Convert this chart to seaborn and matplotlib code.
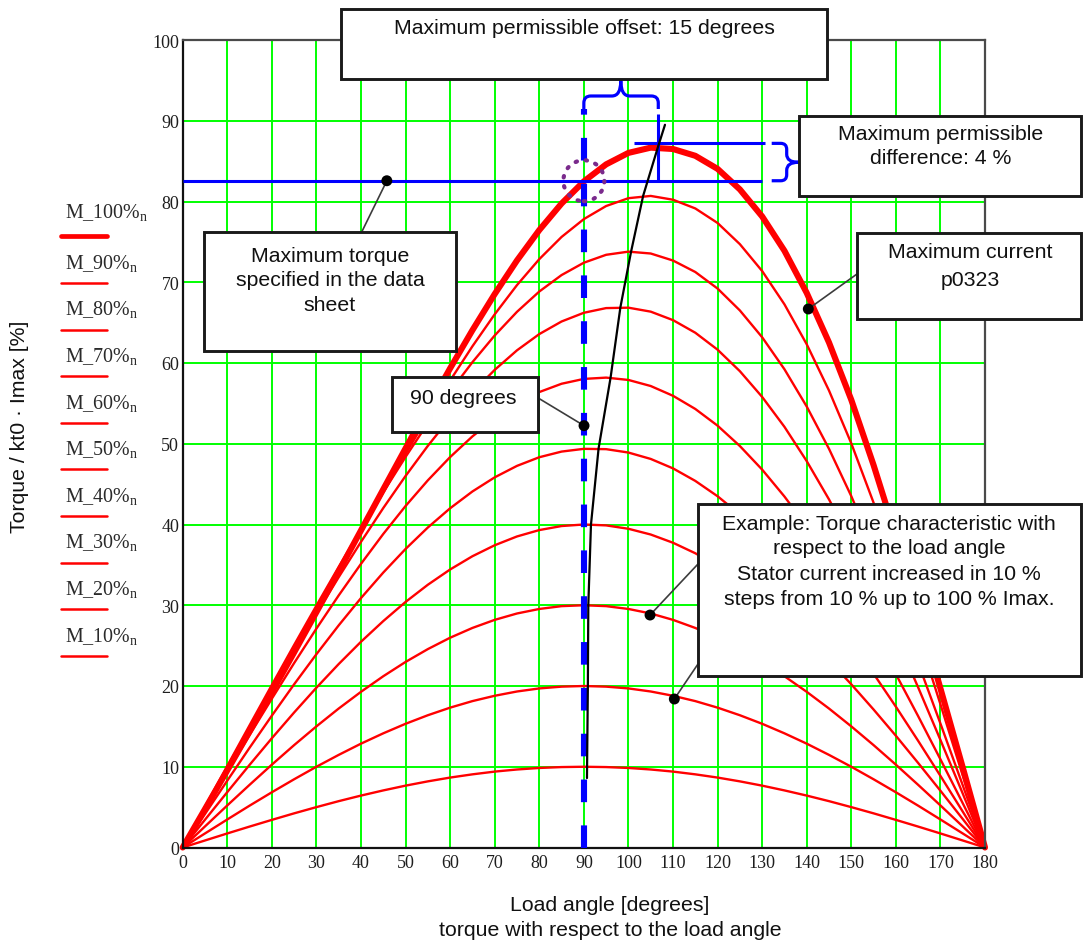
import matplotlib
matplotlib.use("Agg")
import matplotlib.pyplot as plt
import seaborn as sns
import pandas as pd
from matplotlib.path import Path
from matplotlib.patches import PathPatch, Rectangle, Ellipse
from matplotlib.lines import Line2D

# ---------------- data ----------------
angles = [0, 5, 10, 15, 20, 25, 30, 35, 40, 45, 50, 55, 60, 65, 70, 75, 80, 85, 90,
          95, 100, 105, 110, 115, 120, 125, 130, 135, 140, 145, 150, 155, 160, 165, 170, 175, 180]

m100 = [0, 4.76, 9.55, 14.37, 19.23, 24.16, 29.15, 34.19, 39.27, 44.36, 49.43, 54.44, 59.34, 64.06, 68.54, 72.70, 76.46, 79.75, 82.49,
        84.60, 86.02, 86.67, 86.50, 85.66, 84.04, 81.50, 78.15, 73.90, 68.68, 62.54, 55.44, 47.36, 38.59, 29.34, 19.70, 9.92, 0]
m90 = [0, 4.87, 9.74, 14.62, 19.52, 24.43, 29.35, 34.26, 39.15, 43.99, 48.74, 53.37, 57.83, 62.07, 66.03, 69.65, 72.86, 75.61, 77.82,
       79.44, 80.41, 80.69, 80.22, 79.14, 77.34, 74.72, 71.39, 67.27, 62.32, 56.59, 50.05, 42.70, 34.76, 26.41, 17.74, 8.93, 0]
m80 = [0, 5.06, 10.11, 15.13, 20.13, 25.08, 29.96, 34.75, 39.44, 43.99, 48.37, 52.54, 56.47, 60.10, 63.41, 66.34, 68.85, 70.89, 72.42,
       73.40, 73.79, 73.56, 72.69, 71.27, 69.22, 66.51, 63.19, 59.23, 54.61, 49.37, 43.51, 37.04, 30.11, 22.85, 15.35, 7.72, 0]
m70 = [0, 4.94, 9.86, 14.74, 19.57, 24.32, 28.96, 33.48, 37.85, 42.04, 46.01, 49.74, 53.20, 56.35, 59.15, 61.57, 63.58, 65.14, 66.22,
       66.80, 66.85, 66.36, 65.31, 63.75, 61.65, 58.99, 55.80, 52.10, 47.85, 43.11, 37.89, 32.20, 26.15, 19.83, 13.32, 6.69, 0]
m60 = [0, 4.68, 9.33, 13.92, 18.43, 22.84, 27.11, 31.22, 35.13, 38.83, 42.29, 45.47, 48.35, 50.91, 53.12, 54.95, 56.40, 57.43, 58.03,
       58.19, 57.90, 57.15, 55.94, 54.31, 52.24, 49.72, 46.80, 43.47, 39.76, 35.67, 31.24, 26.48, 21.47, 16.27, 10.92, 5.49, 0]
m50 = [0, 4.15, 8.28, 12.35, 16.33, 20.21, 23.94, 27.51, 30.89, 34.05, 36.97, 39.63, 42.01, 44.09, 45.84, 47.26, 48.33, 49.03, 49.37,
       49.33, 48.91, 48.12, 46.95, 45.40, 43.50, 41.25, 38.67, 35.77, 32.58, 29.13, 25.43, 21.52, 17.44, 13.21, 8.87, 4.45, 0]
m40 = [0, 3.44, 6.86, 10.23, 13.53, 16.72, 19.79, 22.72, 25.48, 28.04, 30.41, 32.54, 34.43, 36.07, 37.43, 38.52, 39.31, 39.81, 40.00,
       39.89, 39.47, 38.76, 37.74, 36.44, 34.85, 32.99, 30.88, 28.52, 25.95, 23.17, 20.21, 17.09, 13.84, 10.47, 7.03, 3.53, 0]
m30 = [0, 2.61, 5.21, 7.76, 10.26, 12.68, 15.00, 17.21, 19.28, 21.21, 22.98, 24.57, 25.98, 27.19, 28.19, 28.98, 29.54, 29.89, 30.00,
       29.89, 29.54, 28.98, 28.19, 27.19, 25.98, 24.57, 22.98, 21.21, 19.28, 17.21, 15.00, 12.68, 10.26, 7.76, 5.21, 2.61, 0]
m20 = [0, 1.74, 3.47, 5.18, 6.84, 8.45, 10.00, 11.47, 12.86, 14.14, 15.32, 16.38, 17.32, 18.13, 18.79, 19.32, 19.70, 19.92, 20.00,
       19.92, 19.70, 19.32, 18.79, 18.13, 17.32, 16.38, 15.32, 14.14, 12.86, 11.47, 10.00, 8.45, 6.84, 5.18, 3.47, 1.74, 0]
m10 = [0, 0.87, 1.74, 2.59, 3.42, 4.23, 5.00, 5.74, 6.43, 7.07, 7.66, 8.19, 8.66, 9.06, 9.40, 9.66, 9.85, 9.96, 10.00,
       9.96, 9.85, 9.66, 9.40, 9.06, 8.66, 8.19, 7.66, 7.07, 6.43, 5.74, 5.00, 4.23, 3.42, 2.59, 1.74, 0.87, 0]

curve_names = ["100", "90", "80", "70", "60", "50", "40", "30", "20", "10"]
curve_values = [m100, m90, m80, m70, m60, m50, m40, m30, m20, m10]

# locus of the torque maxima (black line)
locus_x = [90.7, 90.9, 91.0, 91.6, 93.3, 96.0, 98.2, 100.6, 103.3, 106.6, 108.2]
locus_y = [8.6, 20.0, 30.0, 40.0, 49.4, 58.2, 66.9, 73.8, 80.7, 86.7, 89.5]

max_torque_level = 82.57     # datasheet maximum torque
peak_level = 87.2            # maximum of the 100 % curve
offset_angle = 90.0          # 90 degrees line
peak_angle = 106.7           # load angle of the maximum
dash_top = 91.45
vline_top = 90.8
hline1_end = 130.0
hline2_start, hline2_end = 101.3, 130.6

dot_x = [45.8, 90.04, 140.36, 104.85, 110.3]
dot_y = [82.57, 52.24, 66.69, 28.79, 18.39]

x_ticks = [0, 10, 20, 30, 40, 50, 60, 70, 80, 90, 100, 110, 120, 130, 140, 150, 160, 170, 180]
y_ticks = [0, 10, 20, 30, 40, 50, 60, 70, 80, 90, 100]

# ---------------- figure ----------------
sns.set_style("white")
plt.rcParams['font.family'] = ['Liberation Sans', 'DejaVu Sans']
plt.rcParams['mathtext.fontset'] = 'custom'
plt.rcParams['mathtext.rm'] = 'Liberation Serif'

W, H = 1083, 945
fig = plt.figure(figsize=(W / 100, H / 100), dpi=100)
fig.patch.set_facecolor('white')
ax = fig.add_axes([182.7 / W, 1 - 848.5 / H, (985 - 182.7) / W, (848.5 - 41) / H])
ax.set_facecolor('white')


def fx(px):
    return px / W


def fy(py):
    return 1 - py / H


# red torque curves
for name, vals in zip(curve_names, curve_values):
    df = pd.DataFrame({'angle': angles, 'torque': vals})
    sns.lineplot(data=df, x='angle', y='torque', ax=ax, color='#ff0000',
                 linewidth=4.4 if name == '100' else 1.7, estimator=None, sort=False,
                 legend=False, zorder=3, solid_joinstyle='round', clip_on=False)

# black locus line
sns.lineplot(x=locus_x, y=locus_y, ax=ax, color='black', linewidth=1.6, estimator=None,
             sort=False, legend=False, zorder=6)

ax.set_xlim(0, 180)
ax.set_ylim(0, 100)
ax.set_xticks(x_ticks)
ax.set_yticks(y_ticks)
ax.set_xticklabels([str(t) for t in x_ticks])
ax.set_yticklabels([str(t) for t in y_ticks])
ax.grid(True, color='#00ff00', linewidth=1.4)
ax.set_axisbelow(True)
ax.tick_params(length=0, labelsize=13, labelcolor='#1e1e1e')
ax.tick_params(axis='x', pad=4.5)
ax.tick_params(axis='y', pad=2.5)
for lbl in ax.get_xticklabels() + ax.get_yticklabels():
    lbl.set_fontfamily('Liberation Serif')
for side, s in ax.spines.items():
    s.set_linewidth(1.6)
    s.set_color('#111111' if side in ('left', 'bottom') else '#4a4a4a')
    s.set_zorder(4)
ax.set_xlabel('')
ax.set_ylabel('')

# blue guide lines
ax.hlines(max_torque_level, 0, hline1_end, color='#0000ff', linewidth=2.2, zorder=5)
ax.hlines(peak_level, hline2_start, hline2_end, color='#0000ff', linewidth=2.2, zorder=5)
ax.vlines(peak_angle, max_torque_level, vline_top, color='#0000ff', linewidth=2.2, zorder=5)
ax.plot([offset_angle, offset_angle], [0, dash_top], color='#0000ff', linewidth=4.4,
        linestyle=(0, (3.7, 3.8)), dash_capstyle='butt', zorder=5)

# purple dotted circle
circ = Ellipse((offset_angle, max_torque_level), 9.2, 5.08, fill=False, edgecolor='#7a2a8c',
               linewidth=3.0, linestyle=(0, (0.35, 2.1)), zorder=6)
circ.set_capstyle('round')
ax.add_patch(circ)

fig.canvas.draw()


def d2p(x, y):
    d = ax.transData.transform((x, y))
    return d[0], H - d[1]


def add_brace(verts_px, codes):
    verts = [(fx(x), fy(y)) for x, y in verts_px]
    p = PathPatch(Path(verts, codes), facecolor='none', edgecolor='#0000ff', linewidth=2.3,
                  transform=fig.transFigure, zorder=6, clip_on=False, capstyle='butt', joinstyle='round')
    ax.add_patch(p)


# top brace (offset)
xL, _ = d2p(offset_angle, 0)
xR, _ = d2p(peak_angle, 0)
xt = 620.8
yb, yh, ytip = 110, 97, 82
M, L, C = Path.MOVETO, Path.LINETO, Path.CURVE3
add_brace([(xL, yb), (xL, yh + 7), (xL, yh), (xL + 7, yh), (xt - 9, yh), (xt, yh), (xt, ytip),
           (xt, yh), (xt + 9, yh), (xR - 7, yh), (xR, yh), (xR, yh + 7), (xR, yb)],
          [M, L, C, C, L, C, C, C, C, L, C, C, L])

# right brace (difference)
_, yt = d2p(0, peak_level)
_, ybo = d2p(0, max_torque_level)
xs, xv, xtip, ym = 771.7, 786.7, 798.3, 163.3
add_brace([(xs, yt), (xv - 6, yt), (xv, yt), (xv, yt + 6), (xv, ym - 8), (xv, ym), (xtip, ym),
           (xv, ym), (xv, ym + 8), (xv, ybo - 6), (xv, ybo), (xv - 6, ybo), (xs, ybo)],
          [M, L, C, C, L, C, C, C, C, L, C, C, L])

# leader lines (box edge -> dot)
leader_starts = [(361.7, 233.0), (539.0, 399.5), (857.0, 275.0), (698.0, 565.0), (698.0, 665.0)]
for (sx, sy), dx, dy in zip(leader_starts, dot_x, dot_y):
    ex, ey = d2p(dx, dy)
    ln = Line2D([fx(sx), fx(ex)], [fy(sy), fy(ey)], color='#3c3c3c', linewidth=1.2,
                transform=fig.transFigure, zorder=7, clip_on=False)
    ax.add_line(ln)

ax.scatter(dot_x, dot_y, s=62, color='black', edgecolors='none', zorder=8, clip_on=False)

# text boxes
FS = 15.3


def box(x0, y0, x1, y1):
    r = Rectangle((fx(x0), fy(y1)), (x1 - x0) / W, (y1 - y0) / H, transform=fig.transFigure,
                  facecolor='white', edgecolor='#1a1a1a', linewidth=2.1, zorder=10)
    fig.add_artist(r)


def txt(cx, cy, s, **kw):
    fig.text(fx(cx), fy(cy), s, ha='center', va='center', fontsize=FS, color='#111111',
             zorder=11, **kw)


box(341, 10, 827, 80)
txt(584, 29, 'Maximum permissible offset: 15 degrees')

box(799, 117, 1081, 197)
txt(941, 135, 'Maximum permissible')
txt(941, 159, 'difference: 4 %')

box(204, 233, 456, 352)
txt(330, 256, 'Maximum torque')
txt(330, 281, 'specified in the data')
txt(330, 306, 'sheet')

box(392, 378, 538, 433)
txt(463, 398, '90 degrees')

box(857, 234, 1081, 320)
txt(970, 253, 'Maximum current')
txt(970, 280, 'p0323')

box(698, 505, 1081, 677)
txt(889, 524, 'Example: Torque characteristic with')
txt(889, 549, 'respect to the load angle')
txt(889, 575, 'Stator current increased in 10 %')
txt(889, 600, 'steps from 10 % up to 100 % Imax.')

# axis titles
fig.text(fx(20), fy(427), 'Torque / kt0 · Imax [%]', rotation=90, ha='center', va='center',
         fontsize=FS, color='#111111')
fig.text(fx(610), fy(906), 'Load angle [degrees]', ha='center', va='center', fontsize=FS,
         color='#111111')
fig.text(fx(610), fy(931), 'torque with respect to the load angle', ha='center', va='center',
         fontsize=FS, color='#111111')

# legend on the left
for i, name in enumerate(curve_names):
    line_y = 237.3 + i * 46.6
    base_y = 218.3 if i == 0 else line_y - 14.3
    fig.text(fx(65), fy(base_y), 'M_' + name + '%$_{\\mathregular{n}}$', ha='left', va='baseline',
             fontsize=14.4, family='Liberation Serif', color='#2a2a2a')
    fig.add_artist(Line2D([fx(61), fx(107)], [fy(line_y), fy(line_y)], color='#ff0000',
                          linewidth=3.4 if i == 0 else 1.8, solid_capstyle='round',
                          transform=fig.transFigure))

fig.savefig('out.png', dpi=100, facecolor='white')
